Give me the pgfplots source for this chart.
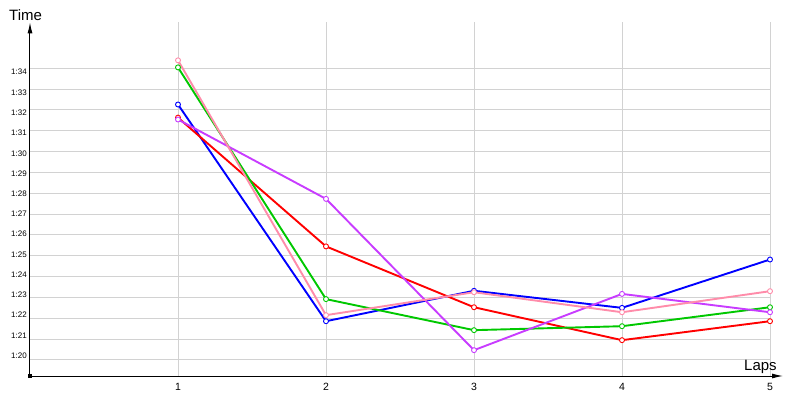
\documentclass[border=0pt]{standalone}
\usepackage{pgfplots}
\pgfplotsset{compat=1.18}
\usepackage{fontspec}
\setmainfont{Liberation Sans}
\usetikzlibrary{arrows.meta}
\definecolor{cblue}{RGB}{0,0,255}
\definecolor{cred}{RGB}{255,0,0}
\definecolor{cgreen}{RGB}{0,200,0}
\definecolor{cpink}{RGB}{255,140,170}
\definecolor{cpurple}{RGB}{200,60,255}
\definecolor{gridc}{RGB}{210,210,210}
\begin{document}
\begin{tikzpicture}[x=1pt,y=1pt]
\begin{axis}[
  at={(0pt,0pt)}, anchor=south west,
  scale only axis, width=740pt, height=353.6pt,
  xmin=0, xmax=5, ymin=79.23, ymax=96.2,
  clip=false,
  axis lines=left,
  x axis line style={-{Latex[length=11pt,width=5pt]}, shorten >=-13pt, line width=1pt},
  y axis line style={-{Latex[length=11pt,width=5pt]}, line width=1pt},
  xtick={1,2,3,4,5},
  xmajorgrids,
  ytick={80.21,81.18,82.15,83.12,84.09,85.07,86.04,87.01,87.98,88.95,89.92,90.89,91.86,92.84,93.81},
  yticklabels={1:20,1:21,1:22,1:23,1:24,1:25,1:26,1:27,1:28,1:29,1:30,1:31,1:32,1:33,1:34},
  extra y ticks={80,81,82,83,84,85,86,87,88,89,90,91,92,93,94},
  extra y tick labels={},
  extra y tick style={grid=major},
  grid style={gridc, line width=1pt},
  major tick length=0pt,
  /pgf/number format/assume math mode=true,
  yticklabel style={font=\fontsize{8}{8}\selectfont, inner sep=1pt, xshift=-2pt},
  xticklabel style={font=\fontsize{10.5}{10.5}\selectfont, yshift=-4pt},
  every axis plot/.append style={line width=1.9pt, mark size=2.5pt,
     mark options={fill=white, line width=0.9pt, solid}},
]
\addplot[cblue, mark=*] coordinates {(1,92.26) (2,81.86) (3,83.32) (4,82.50) (5,84.82)};
\addplot[cred, mark=*] coordinates {(1,91.63) (2,85.45) (3,82.53) (4,80.95) (5,81.86)};
\addplot[cgreen, mark=*] coordinates {(1,94.04) (2,82.92) (3,81.43) (4,81.62) (5,82.53)};
\addplot[cpurple, mark=*] coordinates {(1,91.54) (2,87.73) (3,80.47) (4,83.17) (5,82.29)};
\addplot[cpink, mark=*] coordinates {(1,94.38) (2,82.15) (3,83.25) (4,82.29) (5,83.30)};
\addplot[black, only marks, mark=square*, mark size=1.5pt, mark options={fill=black}] coordinates {(0,79.23)};
\end{axis}
\node[anchor=base west, font=\fontsize{15}{15}\selectfont, inner sep=0pt] at (-21pt,355pt) {Time};
\node[anchor=base west, font=\fontsize{15}{15}\selectfont, inner sep=0pt] at (714pt,6pt) {Laps};
\pgfresetboundingbox
\path[use as bounding box] (-30pt,-24pt) rectangle (770pt,376pt);
\end{tikzpicture}
\end{document}
